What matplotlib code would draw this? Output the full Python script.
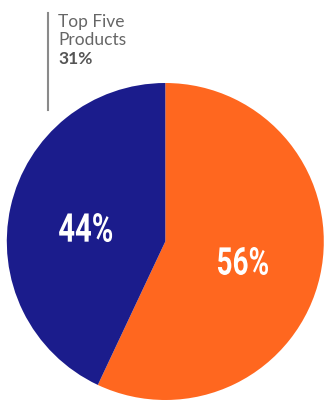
import matplotlib.pyplot as plt
from matplotlib.textpath import TextPath
from matplotlib.patches import PathPatch
from matplotlib.font_manager import FontProperties
from matplotlib.transforms import Affine2D

# wedge sizes as drawn in the picture; printed labels as shown
shares = [57, 43]
labels = ["56%", "44%"]
colors = ["#FF671F", "#1B1C8C"]
note_lines = ["Top Five", "Products", "31%"]

W, H = 325, 400
fig = plt.figure(figsize=(W / 100, H / 100), dpi=100)
cx, cy, r = 165.3, 241.5, 158.5
ax = fig.add_axes([(cx - r) / W, (H - cy - r) / H, 2 * r / W, 2 * r / H])

wedges, texts = ax.pie(shares, colors=colors, startangle=90, counterclock=False,
                       radius=1.0, wedgeprops=dict(linewidth=0))
ax.set_xlim(-1, 1)
ax.set_ylim(-1, 1)
ax.set_aspect("equal")
ax.axis("off")


def narrow_label(ax, x, y, s, w_px, h_px):
    """Bold condensed-looking label: text path squeezed to a given box."""
    tp = TextPath((0, 0), s, size=100,
                  prop=FontProperties(family=["Roboto", "DejaVu Sans"], weight="bold"))
    bb = tp.get_extents()
    px, py = ax.transData.transform((x, y))
    tr = (Affine2D().translate(-bb.x0 - bb.width / 2, -bb.y0 - bb.height / 2)
          .scale(w_px / bb.width, h_px / bb.height).translate(px, py))
    ax.add_patch(PathPatch(tp, transform=tr, facecolor="white", edgecolor="none"))


# percentage labels inside the wedges (positions in pie units)
narrow_label(ax, 0.49, -0.123, labels[0], 50, 28)
narrow_label(ax, -0.503, 0.088, labels[1], 53, 29)

# annotation at top left
fig.add_artist(plt.Line2D([48 / W, 48 / W], [1 - 13 / H, 1 - 110 / H],
                          color="#8a8a8a", lw=1.5))
for txt, base, bold in zip(note_lines, [27, 45, 64], [False, False, True]):
    fig.text(58 / W, 1 - base / H, txt, ha="left", va="baseline",
             color="#555555" if bold else "#666666", fontsize=12.5,
             fontweight="bold" if bold else "normal",
             family=["Lato", "DejaVu Sans"])

fig.savefig("out.png", dpi=100)
